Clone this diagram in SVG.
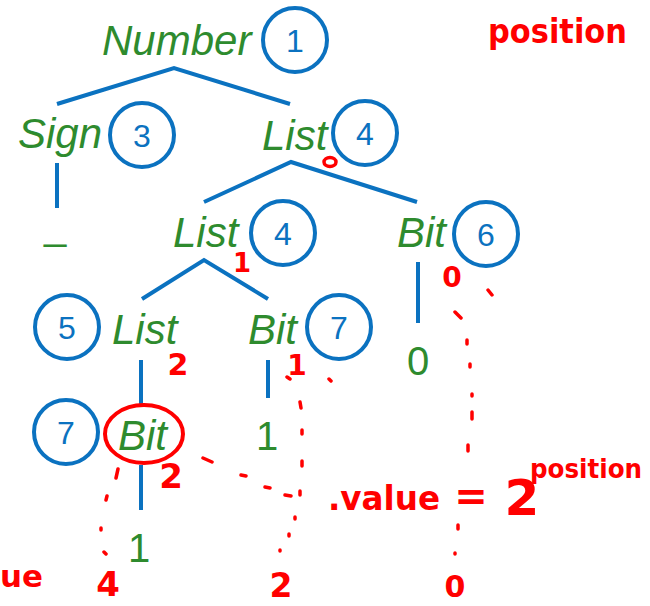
<svg xmlns="http://www.w3.org/2000/svg" width="650" height="606" viewBox="0 0 650 606">
  <style>
    .lbl { font-family: "Liberation Sans", Arial, sans-serif; font-style: italic; font-size: 42px; fill: #2e8b2e; }
    .leaf { font-family: "Liberation Sans", Arial, sans-serif; font-size: 40px; fill: #2e8b2e; text-anchor: middle; }
    .ring { fill: none; stroke: #0b72c0; stroke-width: 4; }
    .num { font-family: "Liberation Sans", Arial, sans-serif; font-size: 32px; fill: #0b72c0; text-anchor: middle; }
    .edge { fill: none; stroke: #0b72c0; stroke-width: 4; }
    .ink { font-family: "DejaVu Sans", "Liberation Sans", sans-serif; font-weight: bold; fill: #ff0000; }
    .dash { fill: none; stroke: #ff0000; stroke-width: 3.5; stroke-linecap: round; }
  </style>
  <rect width="650" height="606" fill="#ffffff"/>

  <!-- tree edges -->
  <g id="connectors">
    <path class="edge" d="M57,104 L174,68 L290,104"/>
    <path class="edge" d="M57,163 L57,208"/>
    <path class="edge" d="M204,202 L291,162 L417,202"/>
    <path class="edge" d="M142,299 L204,260 L268,299"/>
    <path class="edge" d="M418,262 L418,323"/>
    <path class="edge" d="M141,360 L141,404"/>
    <path class="edge" d="M268,360 L268,398"/>
    <path class="edge" d="M141,465 L141,510"/>
  </g>

  <!-- nodes -->
  <g id="n-number">
    <text class="lbl" x="102" y="55">Number</text>
    <circle class="ring" cx="295" cy="40" r="32"/>
    <text class="num" x="295" y="52">1</text>
  </g>
  <g id="n-sign">
    <text class="lbl" x="18" y="148">Sign</text>
    <circle class="ring" cx="142" cy="135" r="32"/>
    <text class="num" x="142" y="147">3</text>
  </g>
  <g id="n-list-top">
    <text class="lbl" x="262" y="150">List</text>
    <circle class="ring" cx="365" cy="133" r="32"/>
    <text class="num" x="365" y="145">4</text>
  </g>
  <g id="n-minus">
    <text class="leaf" x="55" y="239">_</text>
  </g>
  <g id="n-list-mid">
    <text class="lbl" x="173" y="247">List</text>
    <circle class="ring" cx="283" cy="233" r="32"/>
    <text class="num" x="283" y="245">4</text>
  </g>
  <g id="n-bit-right">
    <text class="lbl" x="397" y="247">Bit</text>
    <circle class="ring" cx="486" cy="234" r="32"/>
    <text class="num" x="486" y="246">6</text>
  </g>
  <g id="n-list-low">
    <circle class="ring" cx="67" cy="327" r="32"/>
    <text class="num" x="67" y="339">5</text>
    <text class="lbl" x="112" y="344">List</text>
  </g>
  <g id="n-bit-mid">
    <text class="lbl" x="248" y="344">Bit</text>
    <circle class="ring" cx="339" cy="327" r="32"/>
    <text class="num" x="339" y="339">7</text>
  </g>
  <g id="n-zero">
    <text class="leaf" x="418" y="375">0</text>
  </g>
  <g id="n-bit-low">
    <circle class="ring" cx="66" cy="432" r="32"/>
    <text class="num" x="66" y="444">7</text>
    <text class="lbl" x="118" y="450">Bit</text>
  </g>
  <g id="n-one-mid">
    <text class="leaf" x="267" y="450">1</text>
  </g>
  <g id="n-one-low">
    <text class="leaf" x="139" y="562">1</text>
  </g>

  <!-- red pen annotations -->
  <g id="annotations">
    <text class="ink" x="488" y="43" font-size="34" textLength="139" lengthAdjust="spacingAndGlyphs">position</text>
    <!-- small pen loop under the top List -->
    <ellipse cx="330" cy="162" rx="6" ry="4.5" fill="none" stroke="#ff0000" stroke-width="3.5"/>
    <text class="ink" x="242" y="272" font-size="26" text-anchor="middle">1</text>
    <text class="ink" x="178" y="375" font-size="30" text-anchor="middle">2</text>
    <text class="ink" x="297" y="375" font-size="28" text-anchor="middle">1</text>
    <text class="ink" x="452" y="287" font-size="28" text-anchor="middle">0</text>
    <ellipse cx="144" cy="434" rx="39" ry="29" fill="none" stroke="#ff0000" stroke-width="4"/>
    <text class="ink" x="171" y="488" font-size="34" text-anchor="middle">2</text>
    <text class="ink" x="0" y="587" font-size="30" textLength="43" lengthAdjust="spacingAndGlyphs">ue</text>
    <text class="ink" x="108" y="596" font-size="34" text-anchor="middle">4</text>
    <text class="ink" x="281" y="597" font-size="33" text-anchor="middle">2</text>
    <text class="ink" x="455" y="597" font-size="30" text-anchor="middle">0</text>
    <text class="ink" x="328" y="510" font-size="34" textLength="112" lengthAdjust="spacingAndGlyphs">.value</text>
    <text class="ink" x="471" y="510" font-size="40" text-anchor="middle">=</text>
    <text class="ink" x="522" y="515" font-size="50" text-anchor="middle">2</text>
    <text class="ink" x="530" y="478" font-size="26" textLength="112" lengthAdjust="spacingAndGlyphs">position</text>

    <!-- dotted guide strokes -->
    <path class="dash" d="M203,458 L212,462 M241,475 L246,476 M265,487 L270,488 M285,495 L291,496"/>
    <path class="dash" d="M287,377 L290,379 M329,379 L331,381 M300,402 L301,408 M302,430 L302,434 M302,461 L302,466 M300,491 L300,495 M295,517 L295,519 M289,534 L289,536 M280,550 L280,551"/>
    <path class="dash" d="M118,469 L116,478 M107,496 L106,500 M101,528 L101,530 M104,552 L106,554"/>
    <path class="dash" d="M488,290 L492,295 M455,312 L461,318 M467,340 L467,344 M470,364 L470,367 M472,394 L472,396 M472,412 L472,419 M468,445 L468,451 M458,525 L458,529 M455,553 L455,554"/>
  </g>
</svg>
